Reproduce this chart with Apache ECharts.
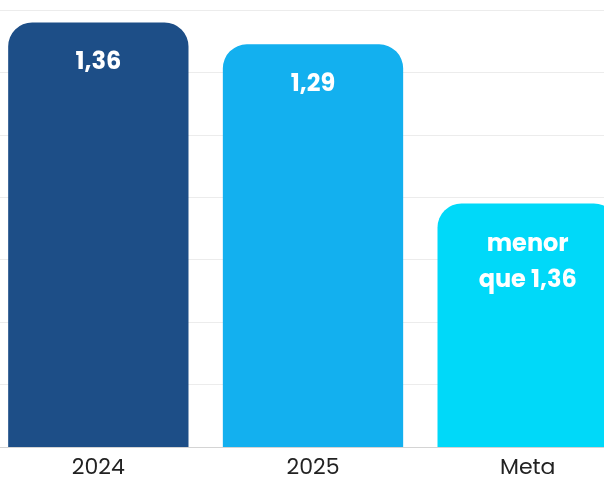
<!DOCTYPE html>
<html>
<head>
<meta charset="utf-8">
<style>
  html, body { margin: 0; padding: 0; background: #fff; overflow: hidden; }
  body { width: 604px; height: 479px; position: relative; }
  #main { position: absolute; left: -9px; top: 0; width: 644px; height: 479px; }
</style>
<script src="https://cdn.jsdelivr.net/npm/echarts@6/dist/echarts.min.js"></script>
</head>
<body>
<div id="main"></div>
<script>
// dados do gráfico
let categories = ['2024', '2025', 'Meta'];
let values = [1.36, 1.29, 0.78];
let valueLabels = ['1,36', '1,29', 'menor\nque 1,36'];
let barColors = ['#1d4e87', '#13b0ef', '#00d9f9'];

let myChart = echarts.init(document.getElementById('main'));
let option = {
    animation: false,
    grid: {
        left: 0,
        right: 0,
        top: 10,
        bottom: 32,
        containLabel: false
    },
    xAxis: {
        type: 'category',
        data: categories,
        axisTick: { show: false },
        axisLine: { lineStyle: { color: '#d4d4d4' } },
        axisLabel: {
            color: '#222',
            fontSize: 22,
            fontFamily: 'Poppins, Lato, sans-serif',
            margin: 10
        }
    },
    yAxis: {
        type: 'value',
        min: 0,
        max: 1.4,
        interval: 0.2,
        axisLabel: { show: false },
        axisLine: { show: false },
        axisTick: { show: false },
        splitLine: { lineStyle: { color: '#ececec' } }
    },
    series: [{
        type: 'bar',
        barWidth: '84%',
        data: values.map((v, i) => ({
            value: v,
            itemStyle: { color: barColors[i], borderRadius: [24, 24, 0, 0] },
            label: { formatter: valueLabels[i] }
        })),
        label: {
            show: true,
            position: 'insideTop',
            distance: 23,
            color: '#fff',
            fontSize: 24,
            fontWeight: 'bold',
            fontFamily: 'Poppins, Lato, sans-serif',
            lineHeight: 36
        }
    }]
};
myChart.setOption(option);
</script>
</body>
</html>
